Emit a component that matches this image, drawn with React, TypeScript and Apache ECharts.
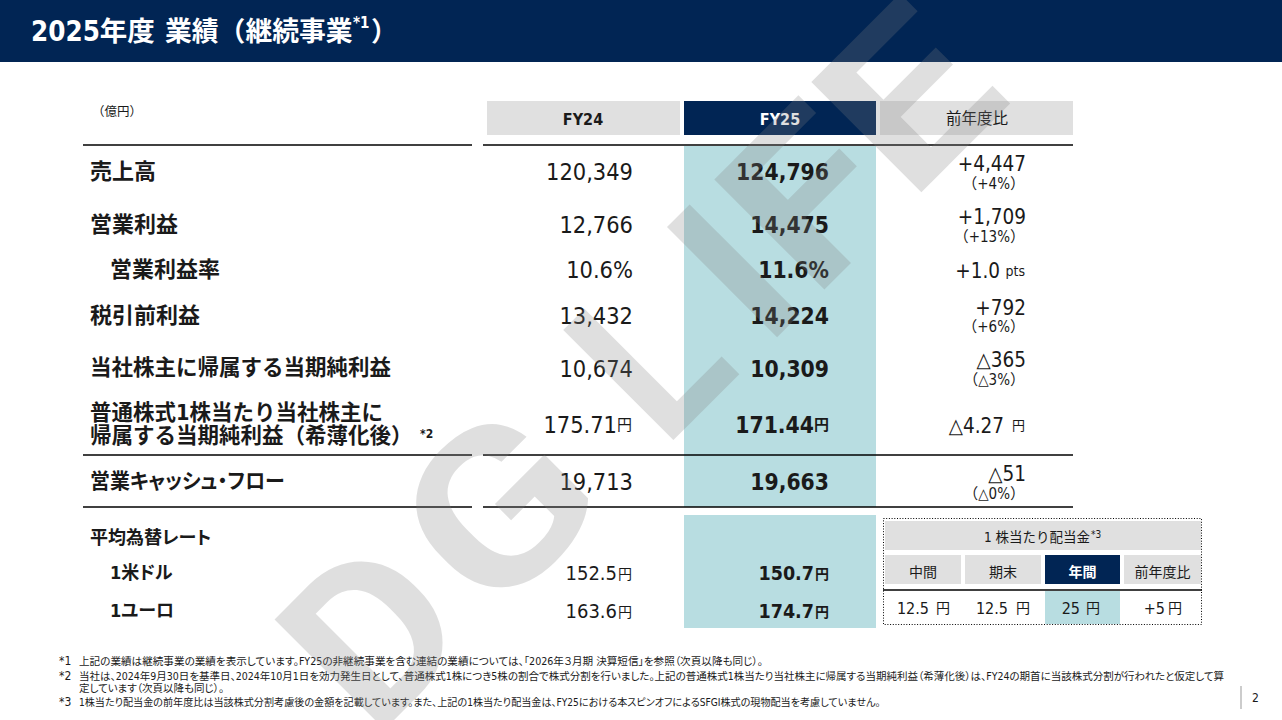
import * as echarts from "echarts";
import { useEffect, useRef } from "react";

const rowLabels = ["売上高", "営業利益", "営業利益率", "税引前利益", "当社株主に帰属する当期純利益"];
const epsLabels = ["普通株式1株当たり当社株主に", "帰属する当期純利益（希薄化後）"];
const fy24 = ["120,349", "12,766", "10.6%", "13,432", "10,674", "175.71", "19,713"];
const fy25 = ["124,796", "14,475", "11.6%", "14,224", "10,309", "171.44", "19,663"];
const change = ["+4,447", "+1,709", "+1.0", "+792", "△365", "△4.27", "△51"];
const changePct = ["（+4%）", "（+13%）", "", "（+6%）", "（△3%）", "", "（△0%）"];
const fxLabels = ["1米ドル", "1ユーロ"];
const fx24 = ["152.5", "163.6"];
const fx25 = ["150.7", "174.7"];
const dividendHeads = ["中間", "期末", "年間", "前年度比"];
const dividendValues = ["12.5", "12.5", "25", "+5"];
const notes = [
    "上記の業績は継続事業の業績を表示しています。FY25の非継続事業を含む連結の業績については、「2026年３月期 決算短信」を参照（次頁以降も同じ）。",
    "当社は、2024年9月30日を基準日、2024年10月1日を効力発生日として、普通株式1株につき5株の割合で株式分割を行いました。上記の普通株式1株当たり当社株主に帰属する当期純利益（希薄化後）は、FY24の期首に当該株式分割が行われたと仮定して算",
    "定しています（次頁以降も同じ）。",
    "1株当たり配当金の前年度比は当該株式分割考慮後の金額を記載しています。また、上記の1株当たり配当金は、FY25における本スピンオフによるSFGI株式の現物配当を考慮していません。",
];
const markLetters = ["D", "G", "L", "I", "F", "E"];
// where each letter starts along the 45 degree line of the watermark, and how wide it is drawn
const markOffsets = [-258, -93, 152, 295, 362, 499];
const markWidths = [1.03, 1.14, 0.93, 1, 1.17, 1.2];

const NAVY = "#012554";
const TEAL = "#b8dde1";
const GRAY = "#e0e0e0";
const INK = "#1a1a1a";
const FONT = "'DejaVu Sans Condensed','Noto Sans CJK JP'";
// the KR name only marks the texts that get proportional kana (see the style tag)
const PFONT = FONT + ",'Noto Sans CJK KR'";

const rowY = [172, 225, 270, 316, 369, 425, 482];
const changeY = [164, 217, 271, 308, 360, 426, 474];
const pctY = [184, 237, 0, 327, 380, 0, 494];
const labelY = [171, 224, 269, 315, 367];

type TextOpts = { weight?: string; color?: string; align?: string; family?: string; scaleX?: number };

const text = (str: string, x: number, y: number, size: number, o: TextOpts = {}) => ({
    type: "text",
    x,
    y,
    scaleX: o.scaleX ?? 1,
    style: {
        text: str,
        x: 0,
        y: 0,
        fontSize: size,
        fontWeight: o.weight ?? "normal",
        fontFamily: o.family ?? FONT,
        fill: o.color ?? INK,
        align: o.align ?? "left",
        verticalAlign: "middle",
    },
});

const rect = (x: number, y: number, w: number, h: number, fill: string) => ({
    type: "rect",
    shape: { x, y, width: w, height: h },
    style: { fill },
});

const line = (x1: number, y: number, x2: number) => ({
    type: "line",
    shape: { x1, y1: y, x2, y2: y },
    style: { stroke: "#000", lineWidth: 1.5 },
});

const buildGraphic = () => {
    const els: any[] = [];

    // backgrounds
    els.push(rect(0, 0, 1282, 62, NAVY));
    els.push(rect(487, 101, 193, 34, GRAY), rect(684, 101, 192, 34, NAVY), rect(880, 101, 193, 34, GRAY));
    els.push(rect(684, 146, 192, 361, TEAL), rect(684, 515, 192, 113, TEAL));

    // rules
    for (const y of [145, 455, 507]) {
        els.push(line(83, y, 472), line(483, y, 1073));
    }

    // title
    els.push(text("2025年度", 31, 31, 27.5, { weight: "bold", color: "#fff" }));
    els.push(text("業績（継続事業", 165, 31, 26.8, { weight: "bold", color: "#fff" }));
    els.push(text("*1", 353, 23, 15, { weight: "bold", color: "#fff" }));
    els.push(text("）", 371, 31, 26.8, { weight: "bold", color: "#fff" }));

    // table head
    els.push(text("（億円）", 92, 111, 12.5));
    els.push(text("FY24", 583, 119, 16, { weight: "bold", align: "center" }));
    els.push(text("FY25", 780, 119, 16, { weight: "bold", align: "center", color: "#fff" }));
    els.push(text("前年度比", 977, 119, 15.5, { align: "center" }));

    // row labels
    rowLabels.forEach((s, i) => {
        els.push(text(s, i === 2 ? 110 : 90, labelY[i], i === 4 ? 21.5 : 22, { weight: "bold" }));
    });
    els.push(text(epsLabels[0], 90, 412, 21.5, { weight: "bold" }));
    els.push(text(epsLabels[1], 90, 435, 21.5, { weight: "bold" }));
    els.push(text("*2", 420, 434, 12, { weight: "bold" }));
    els.push(text("営業キャッシュ・フロー", 90, 481, 21, { weight: "bold", family: PFONT, scaleX: 0.95 }));
    els.push(text("平均為替レート", 90, 537, 18, { weight: "bold", family: PFONT }));
    fxLabels.forEach((s, i) => {
        els.push(text(s, 110, i === 0 ? 572 : 610, 18, { weight: "bold", family: PFONT }));
    });

    // values
    fy24.forEach((s, i) => {
        const yen = i === 5;
        els.push(text(s, yen ? 617 : 633, rowY[i], 23.4, { align: "right" }));
        if (yen) els.push(text("円", 632, rowY[i], 15, { align: "right" }));
    });
    fy25.forEach((s, i) => {
        const yen = i === 5;
        els.push(text(s, yen ? 814 : 829, rowY[i], 22.7, { weight: "bold", align: "right" }));
        if (yen) els.push(text("円", 829, rowY[i], 15, { weight: "bold", align: "right" }));
    });
    change.forEach((s, i) => {
        const right = i === 2 ? 1000 : i === 5 ? 1004 : 1026;
        els.push(text(s, right, changeY[i], 20.5, { align: "right" }));
        if (changePct[i]) els.push(text(changePct[i], 1025, pctY[i], 15, { align: "right" }));
    });
    els.push(text("pts", 1025, 271, 14, { align: "right" }));
    els.push(text("円", 1025, 425, 13, { align: "right" }));

    fx24.forEach((s, i) => {
        const y = i === 0 ? 573 : 611;
        els.push(text(s, 617, y, 20, { align: "right" }));
        els.push(text("円", 632, y + 1, 14, { align: "right" }));
    });
    fx25.forEach((s, i) => {
        const y = i === 0 ? 573 : 611;
        els.push(text(s, 814, y, 19.5, { weight: "bold", align: "right" }));
        els.push(text("円", 829, y + 1, 14, { weight: "bold", align: "right" }));
    });

    // dividend box
    els.push(rect(885, 521, 316, 29, GRAY));
    els.push(text("1 株当たり配当金", 1037, 537, 13.5, { align: "center" }));
    els.push(text("*3", 1091, 534, 10, {}));
    const headX = [885, 965, 1045, 1124];
    const headW = [76, 76, 75, 77];
    const valueRight = [929, 1008, 1080, 1165];
    const unitRight = [950, 1030, 1100, 1182];
    dividendHeads.forEach((s, i) => {
        const on = i === 2;
        els.push(rect(headX[i], 555, headW[i], 29, on ? NAVY : GRAY));
        if (on) els.push(rect(headX[i], 591, headW[i], 33, TEAL));
        els.push(text(s, headX[i] + headW[i] / 2, 572, 14, {
            align: "center",
            color: on ? "#fff" : INK,
            weight: on ? "bold" : "normal",
        }));
        els.push(text(dividendValues[i], valueRight[i], 608, 16, { align: "right" }));
        els.push(text("円", unitRight[i], 608, 14, { align: "right" }));
    });
    els.push(line(883, 590, 1202));
    els.push({
        type: "rect",
        shape: { x: 883.5, y: 518.5, width: 318, height: 106 },
        style: { fill: "none", stroke: "#000", lineWidth: 1, lineDash: [1, 1.7] },
    });

    // foot notes
    const noteY = [661, 675.5, 688, 702];
    const noteMark = ["*1", "*2", "", "*3"];
    const noteSize = [10.6, 10.5, 10.5, 10.1];
    notes.forEach((s, i) => {
        if (noteMark[i]) els.push(text(noteMark[i], 59, noteY[i], 12, {}));
        els.push(text(s, 79, noteY[i], noteSize[i], { family: PFONT }));
    });

    // page number
    els.push({
        type: "line",
        shape: { x1: 1241, y1: 686, x2: 1241, y2: 709 },
        style: { stroke: "#999", lineWidth: 1 },
    });
    els.push(text("2", 1252, 698, 12, {}));

    // watermark lies on top of everything, one letter at a time
    markLetters.forEach((s, i) => {
        els.push({
            type: "text",
            x: 504 + markOffsets[i] * Math.SQRT1_2,
            y: 504 - markOffsets[i] * Math.SQRT1_2,
            rotation: Math.PI / 4,
            scaleX: markWidths[i],
            style: {
                text: s,
                x: 0,
                y: 0,
                fontSize: 219,
                fontWeight: "bold",
                fontFamily: "Roboto",
                fill: "rgba(128,128,128,0.25)",
                align: "left",
                verticalAlign: "middle",
            },
        });
    });
    return els;
};

const App: React.FC = () => {
    const chartRef = useRef<HTMLDivElement>(null);

    useEffect(() => {
        const chartInstance = echarts.init(chartRef.current!, undefined, { renderer: "svg" });
        chartInstance.setOption({
            animation: false,
            backgroundColor: "#fff",
            graphic: { elements: buildGraphic() },
        });
        return () => {
            chartInstance.dispose();
        };
    }, []);

    return (
        <>
            <style>{`text[style*="CJK KR"]{font-feature-settings:"palt"}`}</style>
            <div
                ref={chartRef}
                style={{ position: "fixed", left: 0, top: 0, width: "1282px", height: "720px" }}
            />
        </>
    );
};

export default App;
